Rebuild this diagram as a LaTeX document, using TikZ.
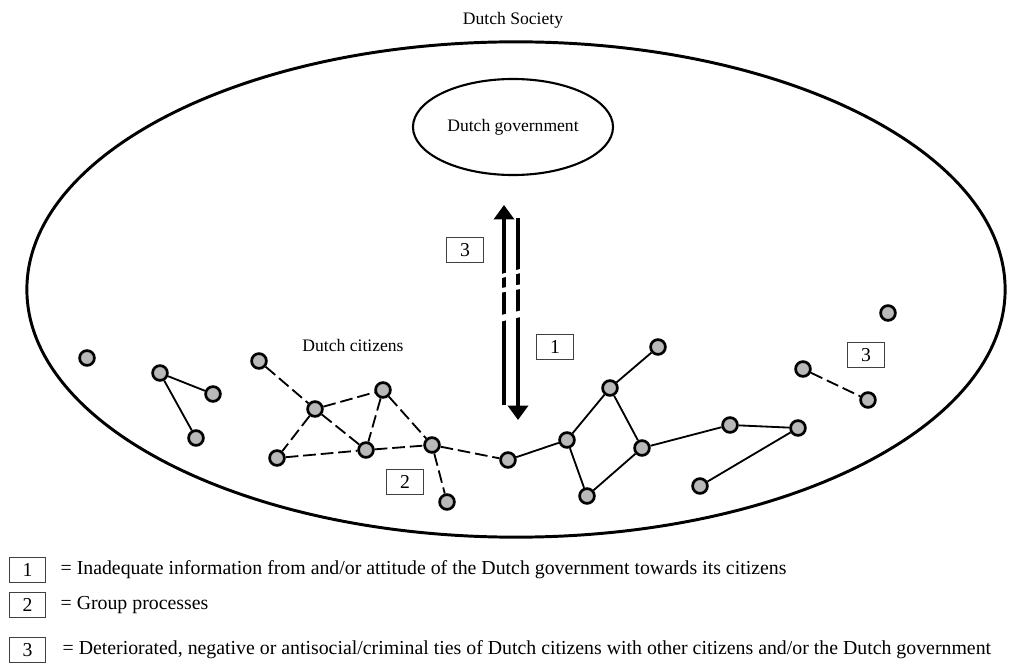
\documentclass[tikz,border=0pt]{standalone}
\usepackage{fontspec}
\setmainfont{Liberation Serif}
\usetikzlibrary{arrows.meta,shapes.geometric,positioning}

\begin{document}
\begin{tikzpicture}[x=0.025cm, y=-0.025cm,
  citizen/.style={circle, draw, line width=1.9pt, fill=gray!55, minimum size=0.37cm, inner sep=0pt},
  tie/.style={line width=1.3pt},
  grouptie/.style={line width=1.3pt, dash pattern=on 9pt off 3.5pt},
  numbox/.style={draw=black!75, line width=0.6pt, minimum width=0.92cm, minimum height=0.62cm, inner sep=0pt, font=\fontsize{14}{16}\selectfont},
  lbl/.style={font=\fontsize{12.5}{15}\selectfont},
  keytext/.style={anchor=west, inner sep=0pt, font=\fontsize{14.1}{16}\selectfont},
  flow/.style={line width=2.8pt, -{Triangle[width=0.5cm,length=0.36cm]}}
]
  \useasboundingbox (0,0) rectangle (1009,663);

  % Society and government
  \node[ellipse, draw, line width=2.1pt, minimum width=24.45cm, minimum height=12.38cm] (society) at (516,289.5) {};
  \node[lbl] (society label) at (513,20) {Dutch Society};
  \node[ellipse, draw, line width=1.5pt, minimum width=5cm, minimum height=2.4cm, lbl] (gov) at (513,127) {Dutch government};

  % Flows between government and citizens
  \coordinate (upA) at (504,405);
  \coordinate (upB) at (504,205);
  \coordinate (dnA) at (518,218);
  \coordinate (dnB) at (518,420);
  \draw[flow] (upA) -- (upB);
  \draw[flow] (dnA) -- (dnB);
  % breaks in the flows
  \foreach \ya/\yb/\w in {277/270/2.8pt, 291/286/3.2pt, 319/313/4.5pt}
      \draw[white, line width=\w] (498,\ya) -- (524,\yb);

  % Citizens
  \foreach \name/\x/\y in {a1/87/358, b1/160/373, b2/213/394, b3/196/438,
                           c1/259/361, c2/315/409, c3/383/390, c4/277/458,
                           c5/366/450, c6/432/445, c7/447/502,
                           d1/508/460, d2/567/440, d3/610/388, d4/658/347,
                           d5/642/448, d6/587/496, d7/730/425, d8/798/428,
                           d9/700/486, e1/803/369, e2/868/400, e3/888/313}
      \node[citizen] (\name) at (\x,\y) {};

  % Ties
  \foreach \u/\v in {b1/b2, b1/b3, d1/d2, d2/d3, d2/d6, d3/d4, d3/d5,
                     d5/d6, d5/d7, d7/d8, d8/d9}
      \draw[tie] (\u) -- (\v);
  \foreach \u/\v in {c1/c2, c2/c3, c2/c4, c2/c5, c3/c5, c3/c6,
                     c4/c5, c5/c6, c6/c7, c6/d1, e1/e2}
      \draw[grouptie] (\u) -- (\v);

  % Labels
  \node[lbl] (citizens) at (353,345) {Dutch citizens};
  \node[numbox] (n3a) at (465,250) {3};
  \node[numbox] (n1) at (555,347) {1};
  \node[numbox] (n2) at (405,482) {2};
  \node[numbox] (n3b) at (866,355) {3};

  % Legend
  \node[numbox] (key1) at (27.5,570) {1};
  \node[numbox] (key2) at (27.5,605) {2};
  \node[numbox] (key3) at (27.5,650) {3};
  \node[keytext, right=0.35cm of key1] (txt1) {= Inadequate information from and/or attitude of the Dutch government towards its citizens};
  \node[keytext, right=0.35cm of key2] (txt2) {= Group processes};
  \node[keytext, right=0.4cm of key3] (txt3) {= Deteriorated, negative or antisocial/criminal ties of Dutch citizens with other citizens and/or the Dutch government};
\end{tikzpicture}
\end{document}
